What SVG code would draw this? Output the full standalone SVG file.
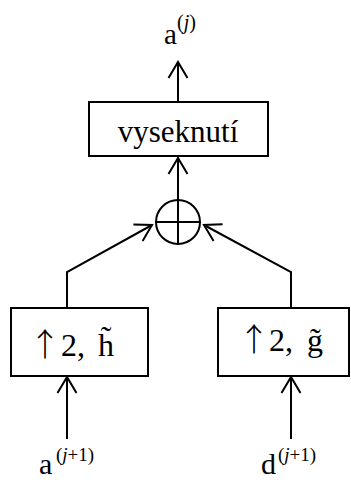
<svg xmlns="http://www.w3.org/2000/svg" width="351" height="480" viewBox="0 0 351 480">
  <style>
    .box { fill: #fff; stroke: #000; stroke-width: 2; }
    .ln { fill: none; stroke: #000; stroke-width: 2; }
    .t { font-family: "Liberation Serif", "Times New Roman", serif; fill: #000; }
    .ar { font-family: "Noto Sans CJK JP", "Liberation Serif", sans-serif; font-weight: 300; fill: #000; }
    .it { font-style: italic; }
  </style>
  <defs>
    <marker id="arr" viewBox="-20 -12 24 24" markerWidth="24" markerHeight="24" refX="0" refY="0" orient="auto" markerUnits="userSpaceOnUse">
      <path d="M-16,-9.5 L0,0 L-16,9.5" fill="none" stroke="#000" stroke-width="2"/>
    </marker>
  </defs>

  <g id="connectors">
    <line class="ln" x1="178" y1="101" x2="178" y2="62" marker-end="url(#arr)"/>
    <line class="ln" x1="178" y1="200" x2="178" y2="158" marker-end="url(#arr)"/>
    <polyline class="ln" points="67,307 67,272 152,225" marker-end="url(#arr)"/>
    <polyline class="ln" points="291,307 291,272 204,225" marker-end="url(#arr)"/>
    <line class="ln" x1="67" y1="439" x2="67" y2="377" marker-end="url(#arr)"/>
    <line class="ln" x1="291" y1="439" x2="291" y2="377" marker-end="url(#arr)"/>
  </g>

  <g id="label-aj">
    <text class="t" font-size="29" x="164" y="43.5">a<tspan font-size="20" x="177" y="28.5">(<tspan class="it">j</tspan>)</tspan></text>
  </g>

  <g id="node-vyseknuti">
    <rect class="box" x="89" y="102" width="179" height="54"/>
    <text class="t" font-size="31" x="178" y="142" text-anchor="middle">vyseknutí</text>
  </g>

  <g id="node-sum">
    <circle class="ln" cx="178" cy="222" r="22"/>
    <line class="ln" x1="156" y1="222" x2="200" y2="222"/>
    <line class="ln" x1="178" y1="200" x2="178" y2="244"/>
  </g>

  <g id="node-h">
    <rect class="box" x="11" y="308" width="137" height="68"/>
    <text class="ar" font-size="32" x="45" y="356" text-anchor="middle">↑</text>
    <text class="t" font-size="32" y="356"><tspan x="61">2,</tspan><tspan x="98">h̃</tspan></text>
  </g>

  <g id="node-g">
    <rect class="box" x="218" y="308" width="131" height="68"/>
    <text class="ar" font-size="32" x="254" y="351" text-anchor="middle">↑</text>
    <text class="t" font-size="32" y="351"><tspan x="269">2,</tspan><tspan x="307">g̃</tspan></text>
  </g>

  <g id="label-a">
    <text class="t" font-size="30" x="39" y="474">a<tspan font-size="19" x="56" y="461">(<tspan class="it">j</tspan>+1)</tspan></text>
  </g>

  <g id="label-d">
    <text class="t" font-size="30" x="261" y="474">d<tspan font-size="19" x="278" y="461">(<tspan class="it">j</tspan>+1)</tspan></text>
  </g>
</svg>
